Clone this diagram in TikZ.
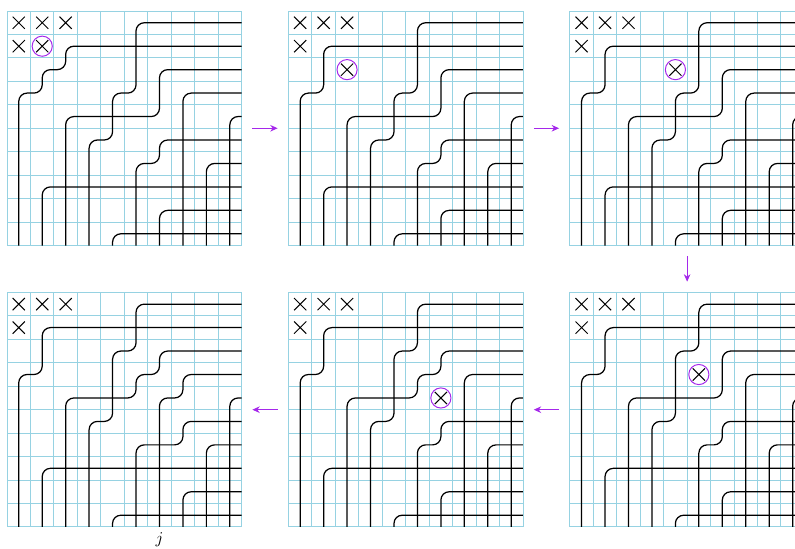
\documentclass[tikz,border=0pt]{standalone}
\usepackage{amsmath}
\usepackage{xcolor}
\usepackage{tikz}
\usetikzlibrary{arrows.meta, positioning}
\definecolor{gridblue}{RGB}{150,210,226}
\definecolor{markpurple}{RGB}{165,40,235}
\tikzset{
  pdbox/.style={
    rectangle, minimum width=5cm, minimum height=5cm,
    inner sep=0pt, outer sep=0pt
  },
  gridline/.style={draw=gridblue, line width=0.55pt},
  pipe/.style={draw=black, line width=0.75pt, rounded corners=5pt},
  cross/.style={draw=black, line width=0.6pt},
  marked/.style={
    circle, draw=markpurple, line width=0.6pt,
    minimum size=0.43cm, inner sep=0pt
  },
  movearrow/.style={
    -{Stealth[length=4.5pt, width=4pt]}, line width=0.6pt, color=markpurple,
    shorten >=0.23cm, shorten <=0.23cm
  }
}
\newcommand{\pdx}[2]{%
  \draw[cross] (#1-0.26,-#2+0.26) -- (#1+0.26,-#2-0.26)
               (#1-0.26,-#2-0.26) -- (#1+0.26,-#2+0.26);}
\newcommand{\pdbase}{%
  \foreach \i in {0,...,10} {
    \draw[gridline] (\i+0.5,-0.5) -- (\i+0.5,-10.5);
    \draw[gridline] (0.5,-\i-0.5) -- (10.5,-\i-0.5);
  }
  \pdx{1}{1} \pdx{2}{1} \pdx{3}{1} \pdx{1}{2}
  \draw[pipe] (2,-10.5) |- (10.5,-8);
  \draw[pipe] (5,-10.5) |- (10.5,-10);
  \draw[pipe] (9,-10.5) |- (10.5,-7);
  \draw[pipe] (10,-10.5) |- (10.5,-5);
}

\begin{document}
\begin{tikzpicture}[x=0.5cm, y=0.5cm, node distance=1cm]
  \useasboundingbox (0,0) rectangle (33.9,-23.41);
  \clip (0,0) rectangle (33.9,-23.41);

  % Grid frames
  \node[pdbox] (pd1) at (5.3,-5.47) {};
  \node[pdbox, right=of pd1] (pd2) {};
  \node[pdbox, right=of pd2] (pd3) {};
  \node[pdbox, below=of pd3] (pd4) {};
  \node[pdbox, left=of pd4] (pd5) {};
  \node[pdbox, left=of pd5] (pd6) {};

  % Moves
  \draw[movearrow] (pd1.east) -- (pd2.west);
  \draw[movearrow] (pd2.east) -- (pd3.west);
  \draw[movearrow] (pd3.south) -- (pd4.north);
  \draw[movearrow] (pd4.west) -- (pd5.east);
  \draw[movearrow] (pd5.west) -- (pd6.east);

  % Grid 1
  \begin{scope}[shift={(pd1.north west)}, shift={(-0.5,0.5)}]
    \pdbase
    \draw[pipe] (1,-10.5) |- (2,-4) |- (3,-3) |- (10.5,-2);
    \draw[pipe] (3,-10.5) |- (7,-5) |- (10.5,-3);
    \draw[pipe] (4,-10.5) |- (5,-6) |- (6,-4) |- (10.5,-1);
    \draw[pipe] (6,-10.5) |- (7,-7) |- (10.5,-6);
    \draw[pipe] (7,-10.5) |- (10.5,-9);
    \draw[pipe] (8,-10.5) |- (10.5,-4);
    \pdx{2}{2}
    \node[marked] (mk1) at (2,-2) {};
  \end{scope}

  % Grid 2
  \begin{scope}[shift={(pd2.north west)}, shift={(-0.5,0.5)}]
    \pdbase
    \draw[pipe] (1,-10.5) |- (2,-4) |- (10.5,-2);
    \draw[pipe] (3,-10.5) |- (7,-5) |- (10.5,-3);
    \draw[pipe] (4,-10.5) |- (5,-6) |- (6,-4) |- (10.5,-1);
    \draw[pipe] (6,-10.5) |- (7,-7) |- (10.5,-6);
    \draw[pipe] (7,-10.5) |- (10.5,-9);
    \draw[pipe] (8,-10.5) |- (10.5,-4);
    \pdx{3}{3}
    \node[marked] (mk2) at (3,-3) {};
  \end{scope}

  % Grid 3
  \begin{scope}[shift={(pd3.north west)}, shift={(-0.5,0.5)}]
    \pdbase
    \draw[pipe] (1,-10.5) |- (2,-4) |- (10.5,-2);
    \draw[pipe] (3,-10.5) |- (7,-5) |- (10.5,-3);
    \draw[pipe] (4,-10.5) |- (5,-6) |- (6,-4) |- (10.5,-1);
    \draw[pipe] (6,-10.5) |- (7,-7) |- (10.5,-6);
    \draw[pipe] (7,-10.5) |- (10.5,-9);
    \draw[pipe] (8,-10.5) |- (10.5,-4);
    \pdx{5}{3}
    \node[marked] (mk3) at (5,-3) {};
  \end{scope}

  % Grid 4
  \begin{scope}[shift={(pd4.north west)}, shift={(-0.5,0.5)}]
    \pdbase
    \draw[pipe] (1,-10.5) |- (2,-4) |- (10.5,-2);
    \draw[pipe] (3,-10.5) |- (7,-5) |- (10.5,-3);
    \draw[pipe] (4,-10.5) |- (5,-6) |- (6,-3) |- (10.5,-1);
    \draw[pipe] (6,-10.5) |- (7,-7) |- (10.5,-6);
    \draw[pipe] (7,-10.5) |- (10.5,-9);
    \draw[pipe] (8,-10.5) |- (10.5,-4);
    \pdx{6}{4}
    \node[marked] (mk4) at (6,-4) {};
  \end{scope}

  % Grid 5
  \begin{scope}[shift={(pd5.north west)}, shift={(-0.5,0.5)}]
    \pdbase
    \draw[pipe] (1,-10.5) |- (2,-4) |- (10.5,-2);
    \draw[pipe] (3,-10.5) |- (6,-5) |- (7,-4) |- (10.5,-3);
    \draw[pipe] (4,-10.5) |- (5,-6) |- (6,-3) |- (10.5,-1);
    \draw[pipe] (6,-10.5) |- (7,-7) |- (10.5,-6);
    \draw[pipe] (7,-10.5) |- (10.5,-9);
    \draw[pipe] (8,-10.5) |- (10.5,-4);
    \pdx{7}{5}
    \node[marked] (mk5) at (7,-5) {};
  \end{scope}

  % Grid 6
  \begin{scope}[shift={(pd6.north west)}, shift={(-0.5,0.5)}]
    \pdbase
    \draw[pipe] (1,-10.5) |- (2,-4) |- (10.5,-2);
    \draw[pipe] (3,-10.5) |- (6,-5) |- (7,-4) |- (10.5,-3);
    \draw[pipe] (4,-10.5) |- (5,-6) |- (6,-3) |- (10.5,-1);
    \draw[pipe] (6,-10.5) |- (8,-7) |- (10.5,-6);
    \draw[pipe] (7,-10.5) |- (8,-5) |- (10.5,-4);
    \draw[pipe] (8,-10.5) |- (10.5,-9);
    \node[below] (jlab) at (7,-10.5) {$j$};
  \end{scope}
\end{tikzpicture}
\end{document}
